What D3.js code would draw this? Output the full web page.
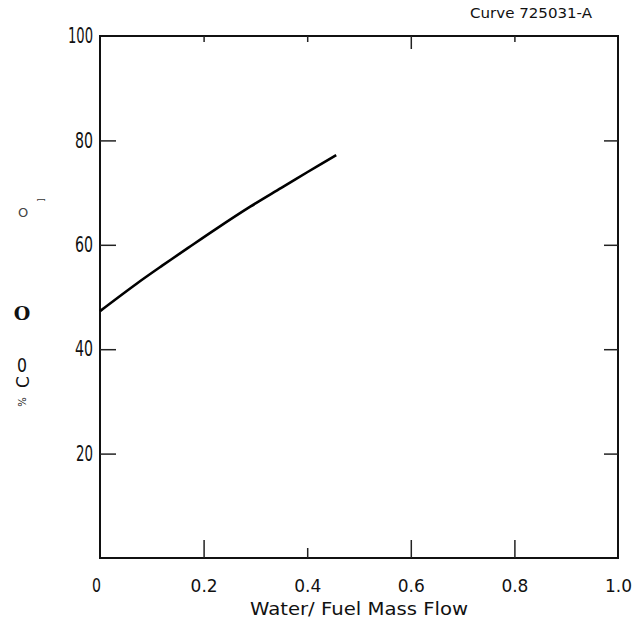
<!DOCTYPE html>
<html>
<head>
<meta charset="utf-8">
<script src="https://cdn.jsdelivr.net/npm/d3@7"></script>
<style>
  body { margin: 0; background: #fff; }
</style>
</head>
<body>
<div class="chart"></div>
<script>
// curve
const ratio = [0, 0.07, 0.12, 0.17, 0.225, 0.29, 0.35, 0.40, 0.456];
const pctCO = [47.3, 52.5, 56.0, 59.4, 63.1, 67.3, 70.9, 73.9, 77.2];

const yTicks = [20, 40, 60, 80, 100];
const yTickWidths = [17, 18, 18, 18, 25];
const xTicks = [0, 0.2, 0.4, 0.6, 0.8, 1.0];
const xTickLabels = ["0", "0.2", "0.4", "0.6", "0.8", "1.0"];

const w = 639, h = 624;
const margin = { top: 36, right: 21, bottom: 66, left: 100 };
const chartWidth = w - margin.left - margin.right;
const chartHeight = h - margin.top - margin.bottom;

const xScale = d3.scaleLinear().domain([0, 1]).range([0, chartWidth]);
const yScale = d3.scaleLinear().domain([0, 100]).range([chartHeight, 0]);

const svg = d3.select(".chart")
    .append("svg")
    .attr("width", w)
    .attr("height", h)
    .append("g")
    .attr("transform", "translate(" + margin.left + "," + margin.top + ")");

// frame
svg.append("rect")
    .attr("x", 0).attr("y", 0)
    .attr("width", chartWidth).attr("height", chartHeight)
    .attr("fill", "none")
    .attr("stroke", "#111")
    .attr("stroke-width", 2);

// left axis, ticks pointing in
const yAxis = d3.axisLeft(yScale)
    .tickValues(yTicks)
    .tickSize(-16)
    .tickPadding(7)
    .tickFormat(d3.format("d"));

const gy = svg.append("g").call(yAxis);
gy.select(".domain").remove();
gy.selectAll(".tick line").attr("stroke", "#222").attr("stroke-width", 1.5)
    .filter(d => d === 100).remove();
gy.selectAll(".tick text")
    .attr("font-family", "DejaVu Sans")
    .attr("font-size", 21)
    .attr("fill", "#111")
    .attr("lengthAdjust", "spacingAndGlyphs")
    .attr("textLength", (d, i) => yTickWidths[i]);

// right axis ticks
const gr = svg.append("g")
    .attr("transform", "translate(" + chartWidth + ",0)")
    .call(d3.axisRight(yScale).tickValues([20, 40, 60, 80]).tickSize(-14).tickFormat(""));
gr.select(".domain").remove();
gr.selectAll(".tick line").attr("stroke", "#222").attr("stroke-width", 1.5);

// bottom axis
const xAxis = d3.axisBottom(xScale)
    .tickValues(xTicks)
    .tickSize(-18)
    .tickPadding(22)
    .tickFormat((d, i) => xTickLabels[i]);

const gx = svg.append("g")
    .attr("transform", "translate(0," + chartHeight + ")")
    .call(xAxis);
gx.select(".domain").remove();
gx.selectAll(".tick line")
    .attr("stroke", "#222").attr("stroke-width", 1.5)
    .attr("y2", d => d === 0.4 ? -10 : -18)
    .filter(d => d === 0 || d === 1).remove();
gx.selectAll(".tick text")
    .attr("font-family", "DejaVu Sans")
    .attr("font-size", d => d === 0 ? 20 : 17)
    .attr("fill", "#111")
    .attr("dx", d => d === 0 ? -4 : 0)
    .attr("dy", d => d === 0 ? "0.6em" : "0.71em")
    .filter(d => d === 0)
    .attr("lengthAdjust", "spacingAndGlyphs")
    .attr("textLength", 9);

// top axis ticks
const gt = svg.append("g")
    .call(d3.axisTop(xScale).tickValues([0.2, 0.4, 0.6, 0.8]).tickSize(-6).tickFormat(""));
gt.select(".domain").remove();
gt.selectAll(".tick line")
    .attr("stroke", "#222").attr("stroke-width", 1.5)
    .attr("y2", d => d === 0.6 ? 13 : 6);

// curve
const line = d3.line()
    .x((d, i) => xScale(ratio[i]))
    .y(d => yScale(d))
    .curve(d3.curveCatmullRom);

svg.append("path")
    .datum(pctCO)
    .attr("fill", "none")
    .attr("stroke", "#000")
    .attr("stroke-width", 2.6)
    .attr("d", line);

// x title
svg.append("text")
    .attr("font-family", "DejaVu Sans")
    .attr("x", chartWidth / 2)
    .attr("y", chartHeight + 57)
    .attr("text-anchor", "middle")
    .attr("font-size", 17.5)
    .attr("fill", "#111")
    .attr("lengthAdjust", "spacingAndGlyphs")
    .attr("textLength", 218)
    .text("Water/ Fuel Mass Flow");

// curve id
svg.append("text")
    .attr("font-family", "DejaVu Sans")
    .attr("x", 592 - margin.left)
    .attr("y", 18 - margin.top)
    .attr("text-anchor", "end")
    .attr("font-size", 14)
    .attr("fill", "#111")
    .attr("lengthAdjust", "spacingAndGlyphs")
    .attr("textLength", 122)
    .text("Curve 725031-A");

// scanned y title fragments
const root = d3.select(".chart svg");
root.append("text")
    .attr("x", 23).attr("y", 217)
    .attr("text-anchor", "middle")
    .attr("font-family", "DejaVu Sans")
    .attr("font-size", 13)
    .attr("fill", "#444")
    .text("O");
root.append("text")
    .attr("transform", "translate(38,200) rotate(90)")
    .attr("text-anchor", "middle")
    .attr("font-family", "DejaVu Sans")
    .attr("font-size", 9)
    .attr("fill", "#333")
    .text("[");
root.append("text")
    .attr("x", 22).attr("y", 320)
    .attr("text-anchor", "middle")
    .attr("font-family", "DejaVu Serif")
    .attr("font-weight", "bold")
    .attr("font-size", 19)
    .attr("fill", "#111")
    .text("O");
root.append("text")
    .attr("x", 22).attr("y", 372)
    .attr("text-anchor", "middle")
    .attr("font-family", "DejaVu Sans")
    .attr("font-size", 20)
    .attr("fill", "#111")
    .attr("lengthAdjust", "spacingAndGlyphs")
    .attr("textLength", 10)
    .text("0");
root.append("text")
    .attr("transform", "translate(29,382) rotate(-90)")
    .attr("text-anchor", "middle")
    .attr("font-family", "DejaVu Sans")
    .attr("font-size", 17)
    .attr("fill", "#111")
    .text("C");
root.append("text")
    .attr("transform", "translate(26,402) rotate(-90)")
    .attr("text-anchor", "middle")
    .attr("font-family", "DejaVu Sans")
    .attr("font-size", 10)
    .attr("fill", "#111")
    .text("%");
</script>
</body>
</html>
